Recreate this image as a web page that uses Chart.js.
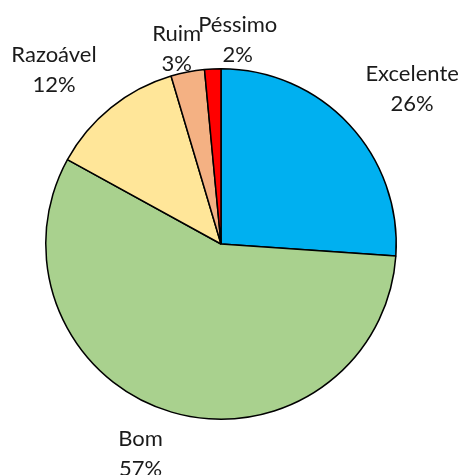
<!DOCTYPE html>
<html>
<head>
<meta charset="utf-8">
<script src="https://cdn.jsdelivr.net/npm/chart.js@4"></script>
<style>
  html, body { margin: 0; padding: 0; background: #fff; }
  canvas { display: block; }
</style>
</head>
<body>
<canvas id="pieChart" width="462" height="475"></canvas>
<script>
const categories = ["Excelente", "Bom", "Razoável", "Ruim", "Péssimo"];
const values = [26.1, 56.9, 12.4, 3.1, 1.5];
const sliceColors = ["#00B0F0", "#A9D18E", "#FFE699", "#F4B183", "#FF0000"];

// label offsets from the slice's outer edge point (x, y of first line baseline)
const labelNudges = [[63, -43], [-31, 34], [-57, -46], [-11, -31], [25, -37]];

const outsideLabels = {
    id: 'outsideLabels',
    afterDraw(chart) {
        const ctx = chart.ctx;
        const meta = chart.getDatasetMeta(0);
        const total = values.reduce((a, b) => a + b, 0);
        ctx.save();
        ctx.font = '22px Lato';
        ctx.fillStyle = '#1a1a1a';
        ctx.textAlign = 'center';
        ctx.textBaseline = 'alphabetic';
        meta.data.forEach((arc, i) => {
            const mid = (arc.startAngle + arc.endAngle) / 2;
            const px = arc.x + Math.cos(mid) * arc.outerRadius;
            const py = arc.y + Math.sin(mid) * arc.outerRadius;
            const x = px + labelNudges[i][0];
            const y = py + labelNudges[i][1];
            ctx.fillText(categories[i], x, y);
            ctx.fillText(Math.round(values[i] / total * 100) + '%', x, y + 30);
        });
        ctx.restore();
    }
};

const ctx = document.getElementById('pieChart').getContext('2d');
const pieChart = new Chart(ctx, {
    type: 'pie',
    data: {
        labels: categories,
        datasets: [{
            data: values,
            backgroundColor: sliceColors,
            borderColor: '#000',
            borderWidth: 1.5
        }]
    },
    options: {
        responsive: false,
        animation: false,
        layout: {
            padding: { left: 45, right: 65, top: 68, bottom: 55 }
        },
        plugins: {
            legend: { display: false },
            tooltip: { enabled: false }
        }
    },
    plugins: [outsideLabels]
});
</script>
</body>
</html>
